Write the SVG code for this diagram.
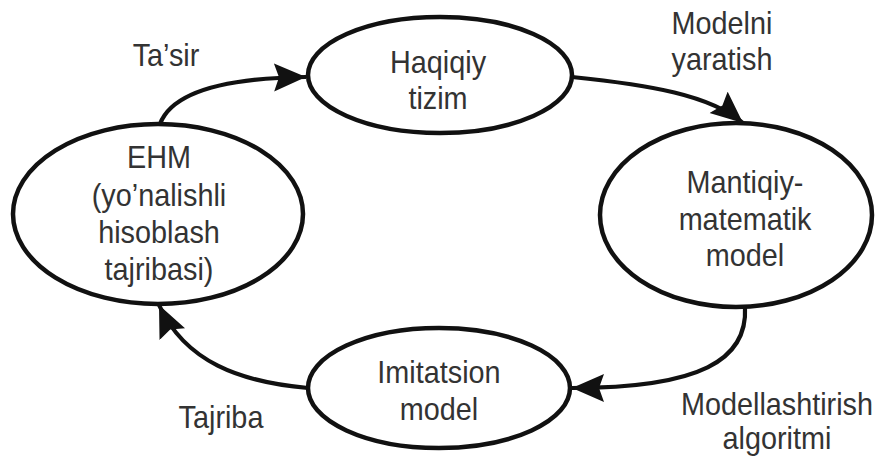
<svg xmlns="http://www.w3.org/2000/svg" width="880" height="461" viewBox="0 0 880 461">
<style>
.node ellipse{fill:#fff;stroke:#111;stroke-width:4.5}
text{font-family:"Liberation Sans",Arial,sans-serif;font-size:32px;fill:#333;text-anchor:middle;transform-box:fill-box;transform-origin:center;transform:scaleX(0.9)}
.conn path{fill:none;stroke:#111;stroke-width:4.2;marker-end:url(#ah)}
</style>
<defs>
<marker id="ah" markerUnits="userSpaceOnUse" markerWidth="36" markerHeight="32" refX="32" refY="14" orient="auto">
<path d="M0,0 L32,14 L0,28 L5,14 z" fill="#111"/>
</marker>
</defs>
<rect width="880" height="461" fill="#fff"/>
<g class="conn" id="connectors">
<path d="M160,124 C172,92 225,78 306,77"/>
<path d="M572,77 C650,85 710,95 743,123"/>
<path d="M745,307 C748,360 700,388 572,388"/>
<path d="M308,388 C240,382 185,362 159,305"/>
</g>
<g class="node" id="haqiqiy">
<ellipse cx="440" cy="75" rx="132" ry="58"/>
<text x="438" y="73">Haqiqiy</text>
<text x="438" y="109">tizim</text>
</g>
<g class="node" id="ehm">
<ellipse cx="158" cy="214" rx="145" ry="90"/>
<text x="159" y="168">EHM</text>
<text x="159" y="206">(yo’nalishli</text>
<text x="159" y="243">hisoblash</text>
<text x="159" y="280">tajribasi)</text>
</g>
<g class="node" id="mantiqiy">
<ellipse cx="736" cy="215" rx="136" ry="92"/>
<text x="745" y="193">Mantiqiy-</text>
<text x="745" y="230">matematik</text>
<text x="745" y="266">model</text>
</g>
<g class="node" id="imitatsion">
<ellipse cx="439" cy="388" rx="131" ry="60"/>
<text x="439" y="383">Imitatsion</text>
<text x="439" y="420">model</text>
</g>
<g id="labels">
<text x="166" y="66">Ta’sir</text>
<text x="722" y="34">Modelni</text>
<text x="722" y="70">yaratish</text>
<text x="777" y="415">Modellashtirish</text>
<text x="777" y="449">algoritmi</text>
<text x="221" y="428">Tajriba</text>
</g>
</svg>
